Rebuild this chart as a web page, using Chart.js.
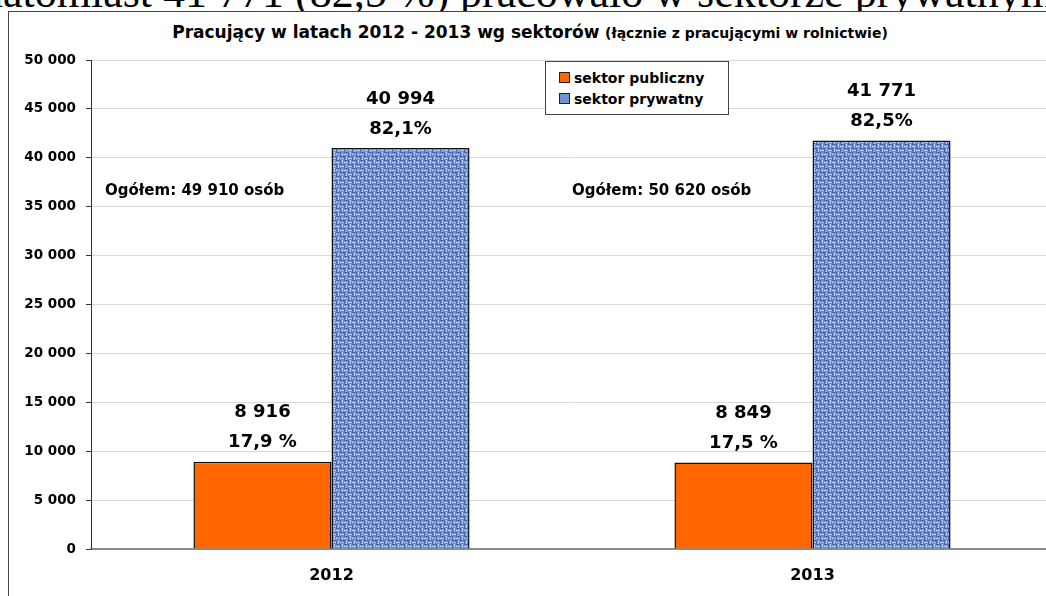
<!DOCTYPE html>
<html>
<head>
<meta charset="utf-8">
<script src="https://cdn.jsdelivr.net/npm/chart.js@4"></script>
<style>
  html, body { margin: 0; padding: 0; background: #fff; overflow: hidden; width: 1046px; height: 596px; }
  body { position: relative; font-family: "DejaVu Sans", sans-serif; }
  #lead { position: absolute; left: -19px; top: -29px; font: 44px "Liberation Serif", "Times New Roman", serif; line-height: 44px; white-space: nowrap; color: #000; }
  #frame { position: absolute; left: 8px; top: 11px; width: 1100px; height: 700px; border: 1px solid #444; background: #fff; }
  #title { position: absolute; left: 0; top: 22px; width: 1060px; text-align: center; font-weight: bold; line-height: 20px; white-space: nowrap; }
  #title .big { font-size: 17px; }
  #title .small { font-size: 14px; }
  canvas { position: absolute; left: 0; top: 0; }
  .note { position: absolute; top: 181px; font-weight: bold; font-size: 15px; line-height: 18px; white-space: nowrap; }
  #legend { position: absolute; left: 545px; top: 61px; width: 182px; height: 52px; border: 1px solid #444; background: #fff; font-weight: bold; font-size: 14px; }
  #legend div { position: absolute; left: 13px; height: 18px; line-height: 18px; white-space: nowrap; }
  #legend span.sw { display: inline-block; width: 9px; height: 9px; border: 1px solid #222; margin-right: 4px; vertical-align: 0px; }
</style>
</head>
<body>
<div id="lead">natomiast 41 771 (82,5 %) pracowało w sektorze prywatnym</div>
<div id="frame"></div>
<div id="title"><span class="big">Pracujący w latach 2012 - 2013 wg sektorów</span> <span class="small">(łącznie z pracującymi w rolnictwie)</span></div>
<canvas id="myChart" width="1060" height="596"></canvas>
<div class="note" style="left:105px">Ogółem: 49 910 osób</div>
<div class="note" style="left:572px">Ogółem: 50 620 osób</div>
<div id="legend">
  <div style="top:7px"><span class="sw" style="background:#ff6600"></span>sektor publiczny</div>
  <div style="top:28px"><span class="sw" style="background:#7392d0"></span>sektor prywatny</div>
</div>
<script>
const years = ['2012', '2013'];
const publicValues = [8916, 8849];
const privateValues = [40994, 41771];
const publicPct = ['17,9 %', '17,5 %'];
const privatePct = ['82,1%', '82,5%'];
const yTicks = [0, 5000, 10000, 15000, 20000, 25000, 30000, 35000, 40000, 45000, 50000];

const FONT = '"DejaVu Sans", sans-serif';
const fmt = (v) => String(v).replace(/\B(?=(\d{3})+(?!\d))/g, ' ');

// woven blue texture for the private sector bars (basket weave, 4px cells)
const makeTexture = () => {
    const c = document.createElement('canvas');
    c.width = 16; c.height = 16;
    const g = c.getContext('2d');
    g.fillStyle = '#6e8ed0';
    g.fillRect(0, 0, 16, 16);
    for (let y = 0; y < 16; y++) {
        for (let x = 0; x < 16; x++) {
            const horiz = (Math.floor(x / 4) + Math.floor(y / 4)) % 2 === 0;
            const p = horiz ? y % 4 : x % 4;
            let col = null;
            if (p === 0) col = '#4967ad';
            else if (p === 2) col = '#b0c8f4';
            else if (p === 1 && (x + y) % 3 === 0) col = '#93afe6';
            if ((x * 7 + y * 3) % 11 === 0) col = '#5573b8';
            if (col) { g.fillStyle = col; g.fillRect(x, y, 1, 1); }
        }
    }
    return g.createPattern(c, 'repeat');
}

const blueTexture = makeTexture();

const barLabels = {
    id: 'barLabels',
    afterDatasetsDraw(chart) {
        const ctx = chart.ctx;
        ctx.save();
        ctx.font = 'bold 18px ' + FONT;
        ctx.fillStyle = '#000';
        ctx.textAlign = 'center';
        ctx.textBaseline = 'middle';
        chart.data.datasets.forEach((ds, di) => {
            chart.getDatasetMeta(di).data.forEach((bar, i) => {
                ctx.fillText(fmt(ds.data[i]), bar.x, bar.y - 49);
                ctx.fillText(ds.pct[i], bar.x, bar.y - 19);
            });
        });
        ctx.restore();
    }
};

const chartData = {
    labels: years,
    datasets: [{
        label: 'sektor publiczny',
        data: publicValues,
        pct: publicPct,
        backgroundColor: '#ff6600',
        borderColor: '#111',
        borderWidth: 1.5
    }, {
        label: 'sektor prywatny',
        data: privateValues,
        pct: privatePct,
        backgroundColor: blueTexture,
        borderColor: '#111',
        borderWidth: 1.5
    }]
};

const config = {
    type: 'bar',
    data: chartData,
    plugins: [barLabels],
    options: {
        responsive: false,
        animation: false,
        devicePixelRatio: 1,
        layout: { padding: { top: 60, right: 7, bottom: 0, left: 0 } },
        datasets: { bar: { barPercentage: 1, categoryPercentage: 0.574 } },
        plugins: {
            legend: { display: false },
            title: { display: false },
            tooltip: { enabled: false }
        },
        scales: {
            x: {
                afterFit: (s) => { s.height = 47; },
                grid: { display: false },
                border: { display: true, color: '#8c8c8c', width: 2 },
                ticks: {
                    color: '#000',
                    padding: 9,
                    font: { family: FONT, size: 16, weight: 'bold' }
                }
            },
            y: {
                min: 0,
                max: 50000,
                afterFit: (s) => { s.width = 91; },
                afterBuildTicks: (s) => { s.ticks = yTicks.map(v => ({ value: v })); },
                grid: { color: '#d9d9d9', lineWidth: 1, tickLength: 5, tickColor: '#333' },
                border: { display: true, color: '#333', width: 1 },
                ticks: {
                    color: '#000',
                    padding: 10,
                    callback: (v) => fmt(v),
                    font: { family: FONT, size: 13.5, weight: 'bold' }
                }
            }
        }
    }
};

const myChart = new Chart(document.getElementById('myChart'), config);
</script>
</body>
</html>
